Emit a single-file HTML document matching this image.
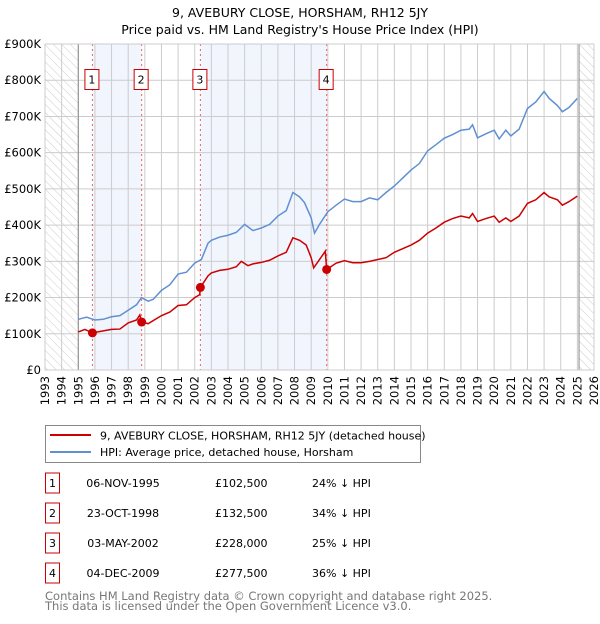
<!DOCTYPE html>
<html><head><meta charset="utf-8">
<style>
body{margin:0;background:#fff;font-family:"DejaVu Sans","Liberation Sans",sans-serif;}
svg text{font-family:"DejaVu Sans","Liberation Sans",sans-serif;}
</style></head>
<body>
<svg id="chart" width="600" height="620" xmlns="http://www.w3.org/2000/svg">
<defs>
<pattern id="hatch" patternUnits="userSpaceOnUse" width="6" height="6" patternTransform="rotate(-45)">
<line x1="0" y1="0" x2="0" y2="6" stroke="#ccc" stroke-width="1"/>
</pattern>
</defs>
<text x="300" y="17" text-anchor="middle" font-size="12.5">9, AVEBURY CLOSE, HORSHAM, RH12 5JY</text>
<text x="300" y="34" text-anchor="middle" font-size="12.5">Price paid vs. HM Land Registry's House Price Index (HPI)</text>
<g id="plot"></g>
<g>
<rect x="45.5" y="425.5" width="375" height="37" fill="#fff" stroke="#888"/>
<line x1="50" y1="435" x2="91" y2="435" stroke="#cc0000" stroke-width="2"/>
<text x="100" y="439.5" font-size="11">9, AVEBURY CLOSE, HORSHAM, RH12 5JY (detached house)</text>
<line x1="50" y1="452" x2="91" y2="452" stroke="#6090d0" stroke-width="2"/>
<text x="100" y="456" font-size="11">HPI: Average price, detached house, Horsham</text>
</g>
<g id="table" font-size="11"></g>
<text x="45" y="600" font-size="11.5" fill="#777">Contains HM Land Registry data © Crown copyright and database right 2025.</text>
<text x="45" y="610" font-size="11.5" fill="#777">This data is licensed under the Open Government Licence v3.0.</text>
</svg>
<script>
const hpiYears=[1995.0,1995.5,1996,1996.5,1997,1997.5,1998,1998.5,1998.8,1999.2,1999.5,2000,2000.5,2001,2001.5,2002,2002.4,2002.8,2003,2003.5,2004,2004.5,2005,2005.5,2006,2006.5,2007,2007.5,2007.9,2008.3,2008.6,2009.0,2009.2,2009.5,2010,2010.5,2011,2011.5,2012,2012.5,2013,2013.5,2014,2014.5,2015,2015.5,2016,2016.5,2017,2017.5,2018,2018.5,2018.7,2019,2019.5,2020,2020.3,2020.7,2021,2021.5,2022,2022.5,2023,2023.3,2023.8,2024.1,2024.5,2025.0];
const hpiValues=[140,146,138,140,147,150,165,180,200,190,195,220,235,265,270,295,305,350,358,367,372,380,402,385,392,402,425,440,490,478,462,420,378,402,437,455,472,465,465,475,470,490,508,530,552,570,605,622,640,650,662,665,677,641,652,662,638,662,646,665,722,740,769,750,730,713,725,750];
const ppYears=[1995.0,1995.4,1995.85,1996.5,1997,1997.5,1998,1998.5,1998.7,1998.81,1999.2,2000,2000.5,2001,2001.5,2002,2002.3,2002.34,2002.8,2003,2003.5,2004,2004.5,2004.8,2005.2,2005.5,2006,2006.5,2007,2007.5,2007.9,2008.3,2008.7,2009.0,2009.15,2009.5,2009.85,2009.93,2010.5,2011,2011.5,2012,2012.5,2013,2013.5,2014,2014.5,2015,2015.5,2016,2016.5,2017,2017.5,2018,2018.5,2018.7,2019,2019.5,2020,2020.3,2020.7,2021,2021.5,2022,2022.5,2023,2023.3,2023.8,2024.1,2024.5,2025.0];
const ppValues=[105,112,102.5,108,112,113,130,138,152,132.5,128,150,160,178,180,200,208,228,260,268,275,278,285,300,288,293,297,303,315,325,365,358,345,310,282,305,328,277.5,295,302,296,296,300,305,310,325,335,345,358,378,392,408,418,425,420,432,410,418,425,408,420,410,425,460,470,490,478,470,455,465,480];
const saleLabels=["1","2","3","4"];
const saleYears=[1995.85,1998.81,2002.34,2009.93];
const salePrices=[102500,132500,228000,277500];
const saleDates=["06-NOV-1995","23-OCT-1998","03-MAY-2002","04-DEC-2009"];
const salePriceText=["£102,500","£132,500","£228,000","£277,500"];
const salePct=["24% ↓ HPI","34% ↓ HPI","25% ↓ HPI","36% ↓ HPI"];
const yTicks=[0,100,200,300,400,500,600,700,800,900];
const yTickLabels=["£0","£100K","£200K","£300K","£400K","£500K","£600K","£700K","£800K","£900K"];
const xStart=1993,xEnd=2026,dataStart=1995.0,dataEnd=2025.1;

const L=45,R=594,T=44,B=370;
const X=y=>L+(y-xStart)/(xEnd-xStart)*(R-L);
const Y=v=>B-v/900*(B-T);
const NS="http://www.w3.org/2000/svg";
const plot=document.getElementById('plot');
function mk(tag,attrs,parent){const e=document.createElementNS(NS,tag);for(const k in attrs)e.setAttribute(k,attrs[k]);(parent||plot).appendChild(e);return e;}

let e;
e=mk('rect',{x:L,y:T,width:R-L,height:B-T,fill:'#fff'});


for(let i=0;i<4;i+=2){
  e=mk('rect',{x:X(saleYears[i]),y:T,width:X(saleYears[i+1])-X(saleYears[i]),height:B-T,fill:'#eef3fc',opacity:0.8});
  
  
}
e=mk('rect',{x:L,y:T,width:X(dataStart)-L,height:B-T,fill:'url(#hatch)'});


e=mk('rect',{x:X(dataEnd),y:T,width:R-X(dataEnd),height:B-T,fill:'url(#hatch)'});


for(let yr=xStart;yr<=xEnd;yr++){
  e=mk('line',{x1:X(yr),x2:X(yr),y1:T,y2:B,stroke:'#ccc','stroke-width':1});
  
  
  e=mk('text',{x:0,y:0,'font-size':11.5,'text-anchor':'end',transform:`translate(${X(yr)+4},${B+6}) rotate(-90)`});
  e.textContent=yr;
  
  
}
yTicks.forEach((v,i)=>{
  e=mk('line',{x1:L,x2:R,y1:Y(v),y2:Y(v),stroke:'#ccc','stroke-width':1});
  
  
  e=mk('text',{x:L-4,y:Y(v)+4,'font-size':11.5,'text-anchor':'end'});
  e.textContent=yTickLabels[i];
  
  
});
e=mk('line',{x1:X(dataStart),x2:X(dataStart),y1:T,y2:B,stroke:'#888'});


e=mk('line',{x1:X(dataEnd),x2:X(dataEnd),y1:T,y2:B,stroke:'#888'});


saleYears.forEach((yr,i)=>{
  e=mk('line',{x1:X(yr),x2:X(yr),y1:T,y2:B,stroke:'#f06060','stroke-dasharray':'2,3'});
  
  
  e=mk('rect',{x:X(yr)-7.5,y:69.5,width:14,height:20,fill:'#fff',stroke:'#cc0000'});
  
  
  e=mk('text',{x:X(yr)-0.5,y:83.5,'font-size':11,'text-anchor':'middle'});
  e.textContent=saleLabels[i];
  
  
});
e=mk('polyline',{points:hpiYears.map((y,i)=>X(y)+','+Y(hpiValues[i])).join(' '),fill:'none',stroke:'#6090d0','stroke-width':1.5});


e=mk('polyline',{points:ppYears.map((y,i)=>X(y)+','+Y(ppValues[i])).join(' '),fill:'none',stroke:'#cc0000','stroke-width':1.5});


saleYears.forEach((yr,i)=>{
  e=mk('circle',{cx:X(yr),cy:Y(salePrices[i]/1000),r:4.5,fill:'#cc0000'});
  
  
});
e=mk('rect',{x:L,y:T,width:R-L,height:B-T,fill:'none',stroke:'#ccc'});



const tbl=document.getElementById('table');
const rowY=[483,513,543,573];
saleLabels.forEach((lab,i)=>{
  const cy=rowY[i];
  e=mk('rect',{x:45.5,y:cy-10,width:14,height:20,fill:'#fff',stroke:'#cc0000'},tbl);
  
  
  e=mk('text',{x:52.5,y:cy+4,'text-anchor':'middle'},tbl);
  e.textContent=lab;
  
  
  e=mk('text',{x:123,y:cy+4,'text-anchor':'middle'},tbl);
  e.textContent=saleDates[i];
  
  
  e=mk('text',{x:215,y:cy+4},tbl);
  e.textContent=salePriceText[i];
  
  
  e=mk('text',{x:312,y:cy+4},tbl);
  e.textContent=salePct[i];
  
  
});
</script>
</body></html>
